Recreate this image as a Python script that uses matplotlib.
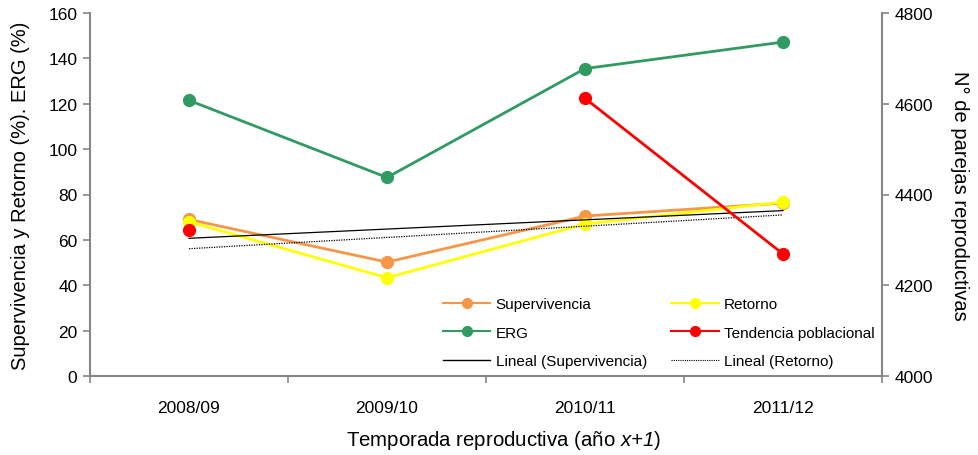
import matplotlib
matplotlib.use("Agg")
import matplotlib.pyplot as plt
import numpy as np
from matplotlib.lines import Line2D

plt.rcParams["font.family"] = ["Liberation Sans", "DejaVu Sans"]
# only the x-label uses mathtext: make "x+1" fully italic in the same face
plt.rcParams["mathtext.fontset"] = "custom"
plt.rcParams["mathtext.rm"] = "Liberation Sans:italic"
plt.rcParams["mathtext.it"] = "Liberation Sans:italic"

# ── data ──────────────────────────────────────────────────────────────────────
SEASONS       = ["2008/09", "2009/10", "2010/11", "2011/12"]
SUPERVIVENCIA = [69.0, 50.2, 70.5, 76.2]
RETORNO       = [68.0, 43.3, 67.0, 76.7]
ERG           = [121.5, 87.5, 135.5, 147.2]
PAREJAS       = [4322, np.nan, 4612, 4269]          # right axis
TREND_SUPERV  = [60.7, 72.9]                         # Lineal (Supervivencia), first/last season
TREND_RETORNO = [56.1, 71.0]                         # Lineal (Retorno), first/last season

C_ORANGE = "#F79646"
C_YELLOW = "#FFFF00"
C_GREEN  = "#2F9A62"
C_RED    = "#FF0000"
C_AXIS   = "#868686"

x = np.arange(len(SEASONS))
x_ends = [x[0], x[-1]]

fig = plt.figure(figsize=(9.79, 4.56), dpi=100)
ax = fig.add_axes([90 / 979, 1 - 377 / 456, 792 / 979, 363 / 456])
ax2 = ax.twinx()

lw, ms = 2.0, 8.5
ax.plot(x, SUPERVIVENCIA, color=C_ORANGE, lw=lw, marker="o", ms=ms, zorder=3)
ax.plot(x, RETORNO, color=C_YELLOW, lw=lw, marker="o", ms=ms, zorder=3)
ax.plot(x, ERG, color=C_GREEN, lw=lw, marker="o", ms=ms, zorder=3)
ax.plot(x_ends, TREND_SUPERV, color="black", lw=0.9, zorder=4)
ax.plot(x_ends, TREND_RETORNO, color="black", lw=0.9, ls=(0, (1, 1)), zorder=4)
ax2.plot(x, PAREJAS, color=C_RED, lw=lw, marker="o", ms=ms, zorder=3)

# ── axes styling ──────────────────────────────────────────────────────────────
ax.set_xlim(-0.5, 3.5)
ax.set_ylim(0, 160)
ax.set_yticks(np.arange(0, 161, 20))
ax2.set_ylim(4000, 4800)
ax2.set_yticks(np.arange(4000, 4801, 200))

ax.set_xticks(x)
ax.set_xticklabels(SEASONS)
ax.set_xticks(np.arange(-0.5, 3.6, 1.0), minor=True)
ax.tick_params(axis="x", which="major", length=0, pad=17, labelsize=12.5)
ax.tick_params(axis="x", which="minor", length=5, color=C_AXIS, width=1.2)
ax.tick_params(axis="y", length=5, color=C_AXIS, width=1.2, pad=4, labelsize=12.5)
ax2.tick_params(axis="y", length=5, color=C_AXIS, width=1.2, pad=4, labelsize=12.5)

for a in (ax, ax2):
    a.spines["top"].set_visible(False)
    for s in ("left", "right", "bottom"):
        a.spines[s].set_color(C_AXIS)
        a.spines[s].set_linewidth(1.5)
ax.spines["right"].set_visible(False)
ax2.spines["left"].set_visible(False)
ax2.spines["bottom"].set_visible(False)

ax.set_xlabel(r"Temporada reproductiva (año $x{+}1$)", fontsize=14.7)
ax.xaxis.set_label_coords(0.5215, -0.175)
ax.xaxis.label.set_va("center")
ax.set_ylabel("Supervivencia y Retorno (%). ERG (%)", fontsize=14.5)
ax.yaxis.set_label_coords(-0.088, 0.5)
ax.yaxis.label.set_va("center")
ax2.set_ylabel("N° de parejas reproductivas", fontsize=14.5, rotation=-90)
ax2.yaxis.set_label_coords(1.098, 0.5)
ax2.yaxis.label.set_va("center")

# ── legend ────────────────────────────────────────────────────────────────────
handles = [
    Line2D([], [], color=C_ORANGE, lw=1.5, marker="o", ms=7),
    Line2D([], [], color=C_GREEN, lw=1.5, marker="o", ms=7),
    Line2D([], [], color="black", lw=1.0),
    Line2D([], [], color=C_YELLOW, lw=1.5, marker="o", ms=7),
    Line2D([], [], color=C_RED, lw=1.5, marker="o", ms=7),
    Line2D([], [], color="black", lw=0.8, ls=(0, (1, 1))),
]
labels = ["Supervivencia", "ERG", "Lineal (Supervivencia)",
          "Retorno", "Tendencia poblacional", "Lineal (Retorno)"]
ax.legend(handles, labels, ncol=2, frameon=False, fontsize=11,
          loc="upper left", bbox_to_anchor=(443 / 979, 1 - 298 / 456),
          bbox_transform=fig.transFigure, borderpad=0, borderaxespad=0,
          handlelength=3.1, handletextpad=0.35, labelspacing=0.95,
          columnspacing=1.6)

fig.savefig("out.png", dpi=100)
